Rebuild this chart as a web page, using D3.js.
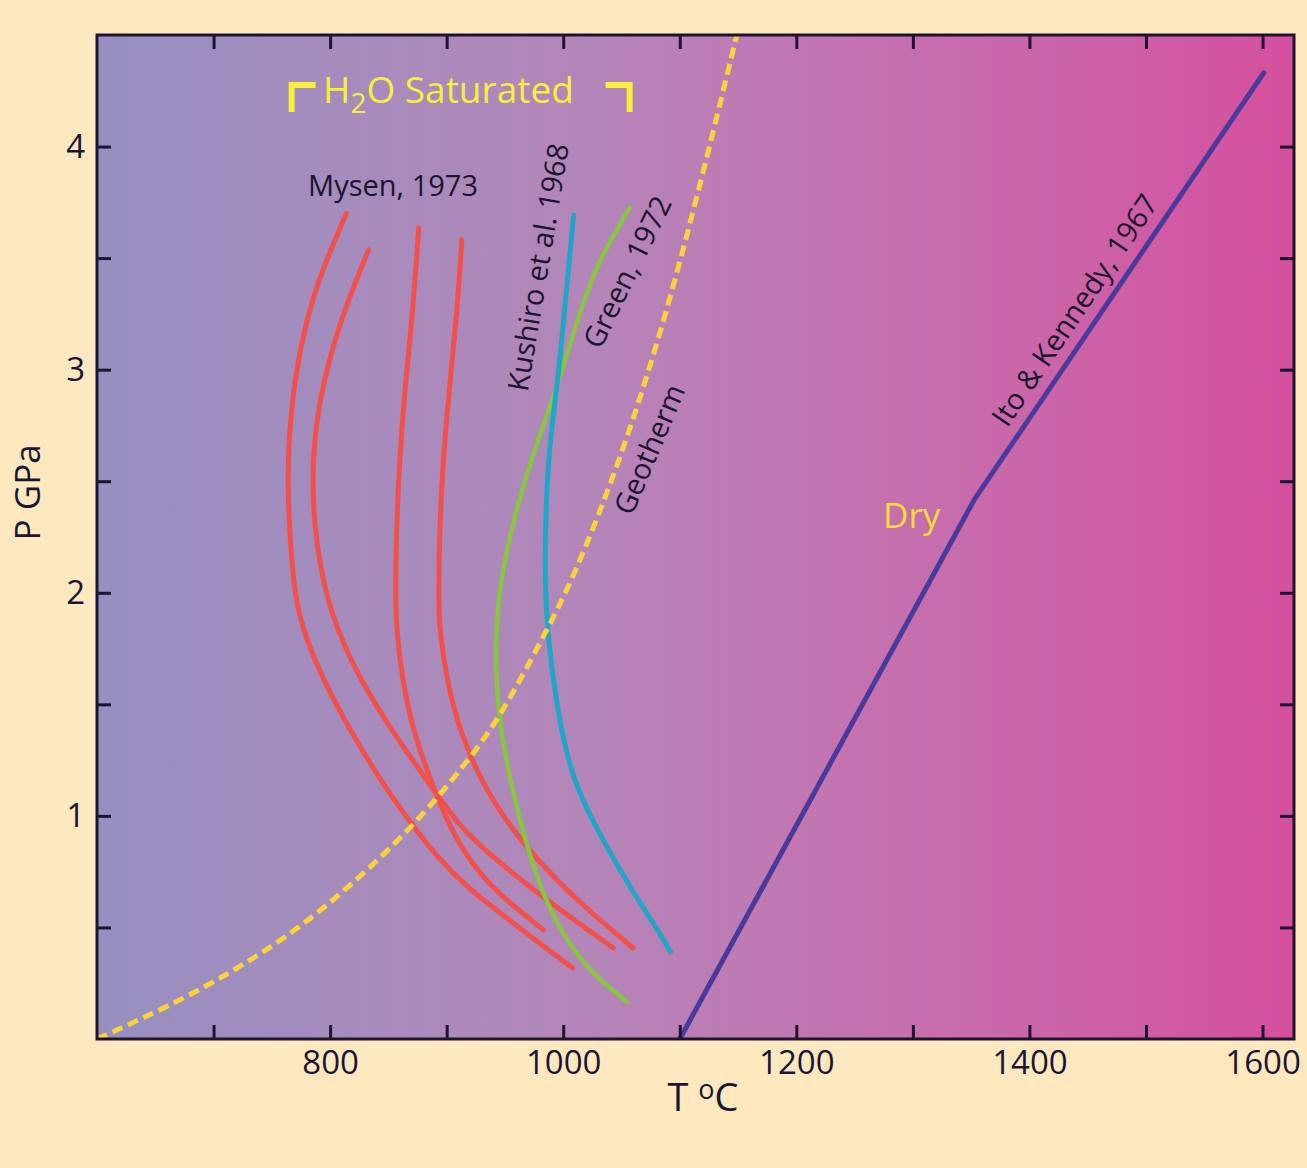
<!DOCTYPE html>
<html><head><meta charset="utf-8">
<script src="https://cdn.jsdelivr.net/npm/d3@7/dist/d3.min.js"></script>
<style>body{margin:0;background:#fde8c0;} svg{display:block}</style>
</head><body><svg id="c" width="1307" height="1168"></svg>
<script>
// ---------- data ----------
const xTicks = [700, 800, 900, 1000, 1100, 1200, 1300, 1400, 1500, 1600];
const xTickLabels = [800, 1000, 1200, 1400, 1600];
const yTicks = [0.5, 1, 1.5, 2, 2.5, 3, 3.5, 4];
const yTickLabels = [1, 2, 3, 4];

const geotherm = [[600,0],[680,0.19],[757,0.43],[814,0.668],[871,0.95],[917,1.237],[946,1.443],[983,1.802],[1008,2.057],[1046,2.55],[1083,3.146],[1115,3.774],[1149,4.5]];
const drySolidus = [[1100,0],[1353,2.42],[1601,4.33]];
const mysenA = [[814,3.70],[789,3.40],[774,3.10],[766,2.81],[763,2.51],[766,2.21],[770,1.97],[779,1.80],[794,1.61],[817,1.385],[843,1.161],[869,0.968],[892,0.816],[917,0.681],[957,0.52],[1008,0.318]];
const mysenB = [[833,3.537],[811,3.254],[794,2.954],[785,2.653],[785,2.358],[793,2.057],[806,1.833],[826,1.609],[854,1.372],[883,1.161],[911,0.95],[943,0.80],[986,0.62],[1043,0.408]];
const mysenC = [[876,3.635],[871,3.254],[862,2.806],[857,2.358],[856,1.968],[857,1.833],[862,1.609],[871,1.385],[886,1.161],[900,0.982],[917,0.816],[943,0.654],[983,0.489]];
const mysenD = [[913,3.581],[909,3.254],[900,2.806],[894,2.358],[893,1.968],[894,1.833],[900,1.609],[911,1.385],[929,1.161],[952,0.968],[980,0.789],[1014,0.61],[1060,0.408]];
const green1972 = [[1057,3.725],[1029,3.478],[1012,3.223],[995,2.922],[974,2.627],[953,2.25],[944,1.968],[941.5,1.744],[944,1.461],[954,1.161],[969,0.861],[983,0.636],[1006,0.412],[1029,0.273],[1055,0.166]];
const kushiro1968 = [[1009,3.693],[1003,3.371],[995,2.922],[987,2.627],[984.5,2.25],[984.5,2.057],[986,1.833],[995,1.461],[1008,1.161],[1029,0.937],[1057,0.681],[1083,0.475],[1092,0.39]];

// ---------- layout ----------
const svg = d3.select("#c");
const L = 97, R = 1294, T = 35, B = 1039;
const x = d3.scaleLinear().domain([600, 1627]).range([L, R]);
const y = d3.scaleLinear().domain([0, 4.5]).range([B, T]);
const FONT = "'Open Sans', 'Noto Sans', sans-serif";
const INK = "#1c1430";

svg.append("rect").attr("width",1307).attr("height",1168).attr("fill","#fde8c0");

const defs = svg.append("defs");
const grad = defs.append("linearGradient").attr("id","bg").attr("x1","0").attr("x2","1").attr("y1","0").attr("y2","0");
[[0,"#968fc0"],[0.2,"#a58cbd"],[0.4,"#b386b9"],[0.6,"#c276b1"],[0.8,"#cb64a8"],[1,"#d5509e"]].forEach(([o,c])=>grad.append("stop").attr("offset",o).attr("stop-color",c));
defs.append("clipPath").attr("id","clip").append("rect").attr("x",L).attr("y",T).attr("width",R-L).attr("height",B-T);

svg.append("rect").attr("x",L).attr("y",T).attr("width",R-L).attr("height",B-T).attr("fill","url(#bg)");

// ---------- curves ----------
const line = d3.line().x(d=>x(d[0])).y(d=>y(d[1])).curve(d3.curveBasis);
const g = svg.append("g").attr("clip-path","url(#clip)");
const RED = "#f2504a";
[mysenA, mysenB, mysenC, mysenD].forEach(s=>{
  g.append("path").attr("d",line(s)).attr("fill","none").attr("stroke",RED).attr("stroke-width",5).attr("stroke-linecap","round");
});
g.append("path").attr("d",line(green1972)).attr("fill","none").attr("stroke","#86c640").attr("stroke-width",4.5).attr("stroke-linecap","round");
g.append("path").attr("d",line(kushiro1968)).attr("fill","none").attr("stroke","#22a6c8").attr("stroke-width",5).attr("stroke-linecap","round");
g.append("path").attr("d",d3.line().x(d=>x(d[0])).y(d=>y(d[1]))(drySolidus)).attr("fill","none").attr("stroke","#4a3a9c").attr("stroke-width",5).attr("stroke-linecap","round");
g.append("path").attr("d",line(geotherm)).attr("fill","none").attr("stroke","#fbd23a").attr("stroke-width",5).attr("stroke-dasharray","11,6");

// ---------- axes ----------
function styleAxis(sel){
  sel.select(".domain").remove();
  sel.selectAll(".tick line").attr("stroke",INK).attr("stroke-width",3);
  sel.selectAll(".tick text").attr("fill",INK).style("font-family",FONT).style("font-size","33px");
}
const fmtX = d => xTickLabels.includes(d) ? d : "";
const fmtY = d => yTickLabels.includes(d) ? d : "";
svg.append("g").attr("transform",`translate(0,${B})`).call(d3.axisBottom(x).tickValues(xTicks).tickSize(-14).tickPadding(12).tickFormat(fmtX)).call(styleAxis);
svg.append("g").attr("transform",`translate(0,${T})`).call(d3.axisTop(x).tickValues(xTicks).tickSize(-14).tickFormat("")).call(styleAxis);
svg.append("g").attr("transform",`translate(${L},0)`).call(d3.axisLeft(y).tickValues(yTicks).tickSize(-14).tickPadding(12).tickFormat(fmtY)).call(styleAxis);
svg.append("g").attr("transform",`translate(${R},0)`).call(d3.axisRight(y).tickValues(yTicks).tickSize(-14).tickFormat("")).call(styleAxis);

svg.append("rect").attr("x",L).attr("y",T).attr("width",R-L).attr("height",B-T).attr("fill","none").attr("stroke",INK).attr("stroke-width",3);

// axis titles
svg.append("text").attr("transform",`translate(40,${(y(2.45))}) rotate(-90)`).attr("text-anchor","middle")
  .style("font-family",FONT).style("font-size","35px").attr("fill",INK).text("P GPa");
const tt = svg.append("text").attr("x",703).attr("y",1111).attr("text-anchor","middle")
  .style("font-family",FONT).style("font-size","38px").attr("fill",INK);
tt.append("tspan").text("T ");
tt.append("tspan").attr("baseline-shift","45%").style("font-size","27px").text("o");
tt.append("tspan").text("C");

// ---------- annotations ----------
function label(txt, t, p, rot, size, color){
  return svg.append("text").attr("transform",`translate(${x(t)},${y(p)}) rotate(${rot})`)
    .attr("text-anchor","middle").attr("dominant-baseline","central")
    .style("font-family",FONT).style("font-size",size+"px").attr("fill",color).text(txt);
}
svg.append("text").attr("x",x(854)).attr("y",y(3.78)).attr("text-anchor","middle")
  .style("font-family",FONT).style("font-size","29px").attr("fill",INK).text("Mysen, 1973");
label("Kushiro et al. 1968", 977.5, 3.46, -80.5, 29, INK);
label("Green, 1972", 1054, 3.44, -64, 29, INK);
label("Geotherm", 1073, 2.645, -67, 29, INK);
label("Ito & Kennedy, 1967", 1438, 3.27, -56, 29, INK);
label("Dry", 1299, 2.35, 0, 35, "#f5dc36");

// H2O Saturated
const YEL = "#f7ef3a";
const h = svg.append("text").attr("x",x(794)).attr("y",y(4.195)).style("font-family",FONT).style("font-size","37px").attr("fill",YEL);
h.append("tspan").text("H");
h.append("tspan").attr("baseline-shift","-35%").style("font-size","28px").text("2");
h.append("tspan").text("O Saturated");
const bx0 = x(767), bx1 = x(1057), by0 = y(4.276), by1 = y(4.155);
svg.append("path").attr("d",`M${bx0},${by1} V${by0} H${bx0+24}`).attr("fill","none").attr("stroke",YEL).attr("stroke-width",6);
svg.append("path").attr("d",`M${bx1-24},${by0} H${bx1} V${by1}`).attr("fill","none").attr("stroke",YEL).attr("stroke-width",6);
</script></body></html>
